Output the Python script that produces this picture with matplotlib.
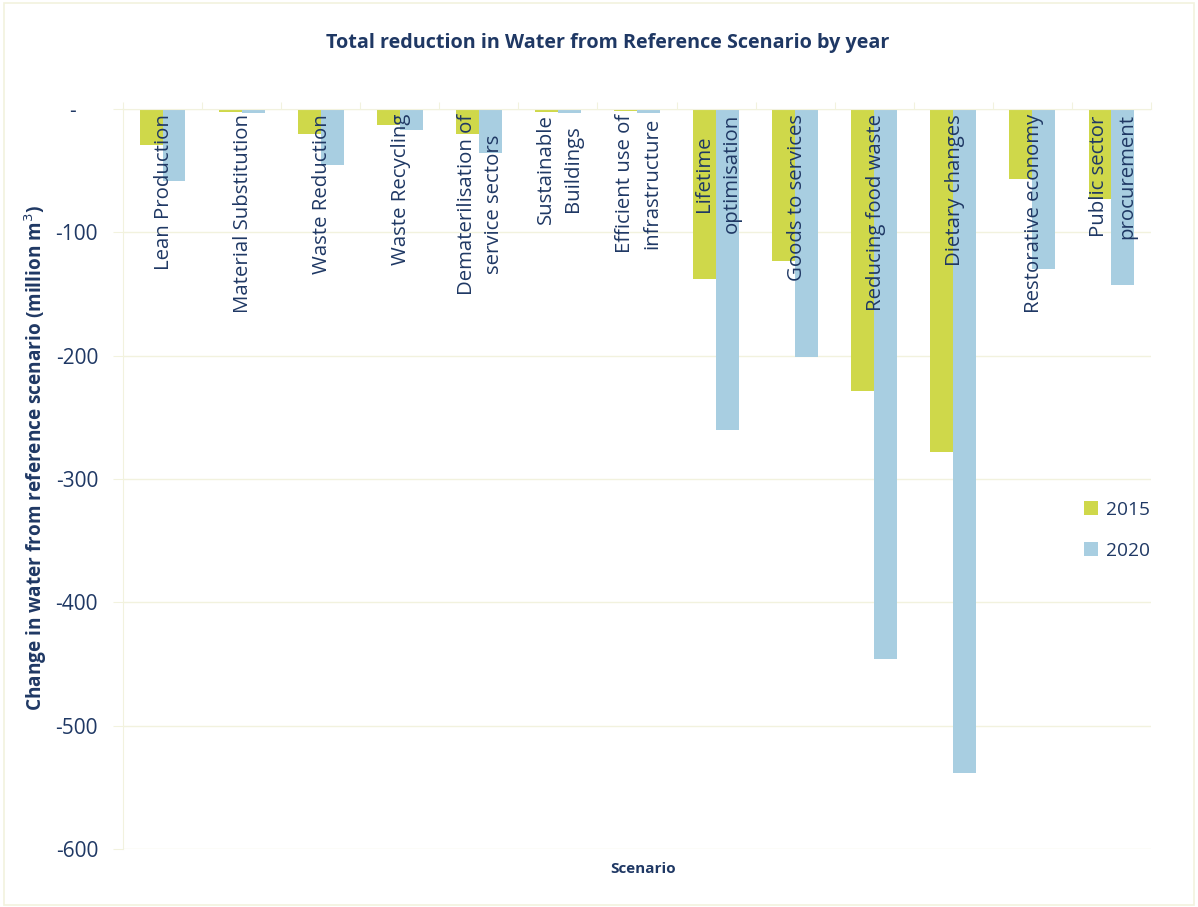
import matplotlib
matplotlib.use("Agg")
import matplotlib.pyplot as plt
import numpy as np
from matplotlib.patches import Rectangle

plt.rcParams['font.family'] = ['Open Sans', 'DejaVu Sans']

scenarios = [
    "Lean Production",
    "Material Substitution",
    "Waste Reduction",
    "Waste Recycling",
    "Dematerilisation of\nservice sectors",
    "Sustainable\nBuildings",
    "Efficient use of\ninfrastructure",
    "Lifetime\noptimisation",
    "Goods to services",
    "Reducing food waste",
    "Dietary changes",
    "Restorative economy",
    "Public sector\nprocurement",
]
water_2015 = [-29, -2.5, -20, -13, -20, -2.5, -2, -138, -123, -229, -278, -57, -73]
water_2020 = [-58, -3, -45, -17, -36, -3, -3, -260, -201, -446, -538, -130, -143]
years = ["2015", "2020"]
ytick_values = [0, -100, -200, -300, -400, -500, -600]
ytick_labels = ["-    ", "-100", "-200", "-300", "-400", "-500", "-600"]

navy = "#1F3864"
c2015 = "#CFD84A"
c2020 = "#A8CEE1"
faint = "#F2F2DE"

fig = plt.figure(figsize=(11.98, 9.07), dpi=100)
fig.patches.append(Rectangle((0.003, 0.002), 0.994, 0.995, transform=fig.transFigure,
                             fill=False, edgecolor=faint, linewidth=1.2))
ax = fig.add_axes([123 / 1198, 1 - 849 / 907, (1151 - 123) / 1198, (849 - 109) / 907])

x = np.arange(len(scenarios))
w = 0.29
ax.bar(x - w / 2, water_2015, width=w, color=c2015, label=years[0], zorder=2)
ax.bar(x + w / 2, water_2020, width=w, color=c2020, label=years[1], zorder=2)

ax.set_xlim(-0.5, len(scenarios) - 0.5)
ax.set_ylim(-600, 0)

ax.set_yticks(ytick_values)
ax.set_yticklabels(ytick_labels, color=navy, fontsize=15)
ax.tick_params(axis='y', length=7, color=faint, pad=11)
ax.yaxis.grid(True, color=faint, linewidth=1.0, zorder=0)

# category boundary ticks along the zero line at top
ax.xaxis.tick_top()
ax.set_xticks(np.arange(len(scenarios) + 1) - 0.5)
ax.set_xticklabels([])
ax.tick_params(axis='x', length=5, color=faint, direction='out')

for s in ['right', 'bottom']:
    ax.spines[s].set_visible(False)
ax.spines['left'].set_color(faint)
ax.spines['top'].set_color(faint)

for xi, name in zip(x, scenarios):
    ax.text(xi + 0.02, -4, name, rotation=90, ha='center', va='top',
            multialignment='center', color=navy, fontsize=14.7, zorder=3,
            linespacing=1.5)

ax.set_ylabel("Change in water from reference scenario (million m$^3$)",
              color=navy, fontsize=13.7, fontweight='bold')
ax.yaxis.set_label_coords(-0.072, 0.528)

fig.text(0.507, 1 - 43 / 907, "Total reduction in Water from Reference Scenario by year",
         ha='center', va='center', color=navy, fontsize=14.2, fontweight='bold')
fig.text(643 / 1198, 1 - 869 / 907, "Scenario", ha='center', va='center',
         color=navy, fontsize=11, fontweight='bold')

leg = ax.legend(loc='center left', bbox_to_anchor=(0.935, 0.431), frameon=False,
                fontsize=13.8, handlelength=0.7, handleheight=0.7,
                handletextpad=0.45, labelspacing=1.2, borderaxespad=0, borderpad=0)
for t in leg.get_texts():
    t.set_color(navy)

fig.savefig("out.png", dpi=100)
